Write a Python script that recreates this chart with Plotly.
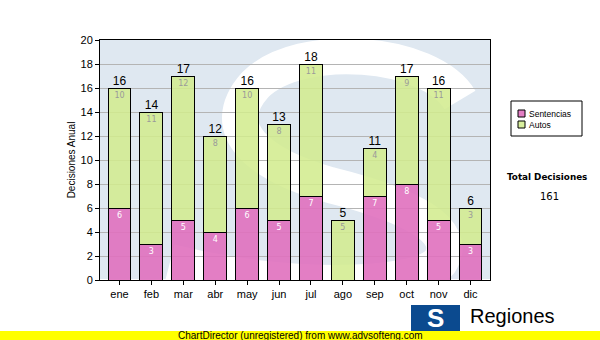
import plotly.graph_objects as go

months = ["ene", "feb", "mar", "abr", "may", "jun", "jul", "ago", "sep", "oct", "nov", "dic"]
sentencias = [6, 3, 5, 4, 6, 5, 7, 0, 7, 8, 5, 3]
autos = [10, 11, 12, 8, 10, 8, 11, 5, 4, 9, 11, 3]
series_names = ["Sentencias", "Autos"]
totals = [s + a for s, a in zip(sentencias, autos)]
grand_total = sum(totals)

PINK = "rgba(224,112,190,0.9)"
GREEN = "rgba(210,236,142,0.87)"

# plot area in pixels: x 100..490, y 40..280
L, R, T, B = 100, 490, 40, 280
W, H = R - L, B - T


def px(x):
    return (x - L) / W


def py(y):
    return (B - y) / H


fig = go.Figure()

fig.add_trace(go.Bar(
    x=months, y=sentencias, name=series_names[0],
    marker=dict(color=PINK, line=dict(color="black", width=1)),
    text=[str(v) if v else "" for v in sentencias],
    textposition="inside", insidetextanchor="end", textangle=0,
    textfont=dict(size=8, color="white", family="DejaVu Sans"),
    width=0.72, hoverinfo="skip", showlegend=False,
))
fig.add_trace(go.Bar(
    x=months, y=autos, name=series_names[1],
    marker=dict(color=GREEN, line=dict(color="black", width=1)),
    text=[str(v) for v in autos],
    textposition="inside", insidetextanchor="end", textangle=0,
    textfont=dict(size=8, color="#9a9a9a", family="DejaVu Sans"),
    width=0.72, hoverinfo="skip", showlegend=False,
))
fig.add_trace(go.Scatter(
    x=months, y=totals, mode="text", text=[str(t) for t in totals],
    textposition="top center", showlegend=False, cliponaxis=False,
    textfont=dict(size=12, color="black", family="Liberation Sans"),
    hoverinfo="skip",
))

shapes = []
# watermark "S" (white stroke on light blue background)
spath = ("M {a},{b} C {c},{d} {e},{f} {g},{h} C {i},{j} {k},{l} {m},{n} "
         "C {o},{p} {q},{r} {s},{t} C {u},{v} {w},{x} {y},{z}").format(
    a=px(460), b=py(100), c=px(430), d=py(50), e=px(300), f=py(40), g=px(255), h=py(85),
    i=px(215), j=py(130), k=px(260), l=py(165), m=px(330), n=py(185),
    o=px(410), p=py(205), q=px(460), r=py(230), s=px(440), t=py(262),
    u=px(415), v=py(290), w=px(280), x=py(290), y=px(170), z=py(262))
shapes.append(dict(type="path", xref="paper", yref="paper", path=spath,
                   line=dict(color="white", width=36), layer="below"))
# legend box and swatches
shapes.append(dict(type="rect", xref="paper", yref="paper",
                   x0=px(511), x1=px(582), y0=py(101), y1=py(136),
                   fillcolor="white", line=dict(color="black", width=1)))
shapes.append(dict(type="rect", xref="paper", yref="paper",
                   x0=px(518), x1=px(525), y0=py(110), y1=py(117),
                   fillcolor=PINK, line=dict(color="black", width=1)))
shapes.append(dict(type="rect", xref="paper", yref="paper",
                   x0=px(518), x1=px(525), y0=py(121), y1=py(128),
                   fillcolor=GREEN, line=dict(color="black", width=1)))
# yellow band at the bottom
shapes.append(dict(type="rect", xref="paper", yref="paper",
                   x0=px(0), x1=px(600), y0=py(331), y1=py(340),
                   fillcolor="#ffff00", line=dict(width=0), layer="above"))
# logo block
shapes.append(dict(type="rect", xref="paper", yref="paper",
                   x0=px(411), x1=px(460), y0=py(305), y1=py(331),
                   fillcolor="#0b4a8f", line=dict(width=0), layer="above"))

annotations = [
    dict(text=series_names[0], x=px(527), y=py(113.5), xref="paper", yref="paper",
         showarrow=False, font=dict(size=8.5, family="Liberation Sans", color="black"),
         xanchor="left", yanchor="middle"),
    dict(text=series_names[1], x=px(527), y=py(124.5), xref="paper", yref="paper",
         showarrow=False, font=dict(size=8.5, family="Liberation Sans", color="black"),
         xanchor="left", yanchor="middle"),
    dict(text="<b>Total Decisiones</b>", x=px(547), y=py(177), xref="paper", yref="paper",
         showarrow=False, font=dict(size=8.8, family="DejaVu Sans", color="black"),
         xanchor="center", yanchor="middle"),
    dict(text=str(grand_total), x=px(549), y=py(196), xref="paper", yref="paper",
         showarrow=False, font=dict(size=10, family="DejaVu Sans", color="black"),
         xanchor="center", yanchor="middle"),
    dict(text="ChartDirector (unregistered) from www.advsofteng.com", x=px(300), y=py(335.5),
         xref="paper", yref="paper", showarrow=False,
         font=dict(size=10, family="Liberation Sans", color="black"),
         xanchor="center", yanchor="middle"),
    dict(text="<b>S</b>", x=px(435), y=py(318), xref="paper", yref="paper", showarrow=False,
         font=dict(size=26, family="Liberation Sans", color="white"),
         xanchor="center", yanchor="middle"),
    dict(text="Regiones", x=px(468), y=py(316), xref="paper", yref="paper", showarrow=False,
         font=dict(size=20, family="Liberation Sans", color="black"),
         xanchor="left", yanchor="middle"),
]

fig.update_layout(
    width=600, height=340,
    margin=dict(l=L, r=600 - R, t=T, b=340 - B, pad=0, autoexpand=False),
    paper_bgcolor="white", plot_bgcolor="#dfe8f1",
    barmode="stack", bargap=0.28,
    font=dict(family="Liberation Sans", size=11, color="black"),
    showlegend=False,
    shapes=shapes, annotations=annotations,
)
fig.update_xaxes(showline=True, linecolor="black", linewidth=1, mirror=True,
                 ticks="outside", ticklen=4, tickcolor="black",
                 tickfont=dict(size=11), showgrid=False)
fig.update_yaxes(range=[0, 20], dtick=2, showline=True, linecolor="black", linewidth=1,
                 mirror=True, ticks="outside", ticklen=4, tickcolor="black",
                 showgrid=True, gridcolor="#b4b4b4", gridwidth=1,
                 tickfont=dict(size=11),
                 title=dict(text="Decisiones Anual", font=dict(size=10), standoff=3))

fig.write_html("out.html")
